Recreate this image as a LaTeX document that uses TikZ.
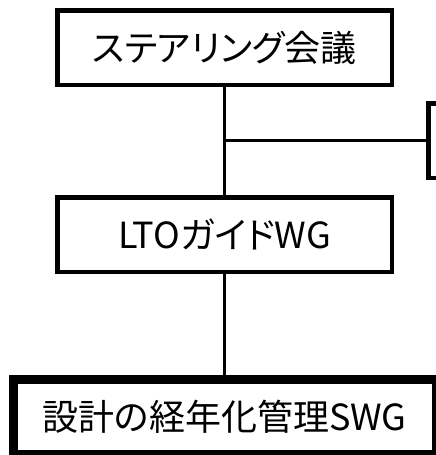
\documentclass[tikz,border=0pt]{standalone}
\usepackage{fontspec}
\setmainfont{Noto Sans CJK JP}[RawFeature=+palt]
\usepackage{tikz}

\begin{document}
\begin{tikzpicture}[x=1pt,y=-1pt,
    box/.style={draw,line width=4.5pt,minimum width=334.5pt,minimum height=74.5pt,
      inner sep=0pt,font=\fontsize{36}{36}\selectfont},
    link/.style={line width=3pt}]
  \clip (0,0) rectangle (436,455);
  \node[box] (steer) at (224.5,47.5) {ステアリング会議};
  \node[box] (guide) at (224.5,234.5) {LTOガイドWG};
  \node[box,minimum width=60pt,anchor=west] (side) at (426,140.5) {};
  \node[box,line width=8.5pt,minimum width=422.5pt,minimum height=74.5pt,anchor=north west] (swg) at (9,375) {設計の経年化管理SWG};
  \coordinate (fork) at (steer.south |- side.west);
  \draw[link] (steer) -- (guide);
  \draw[link] (guide) -- (swg);
  \draw[link] (fork) -- (side.west);
\end{tikzpicture}
\end{document}
